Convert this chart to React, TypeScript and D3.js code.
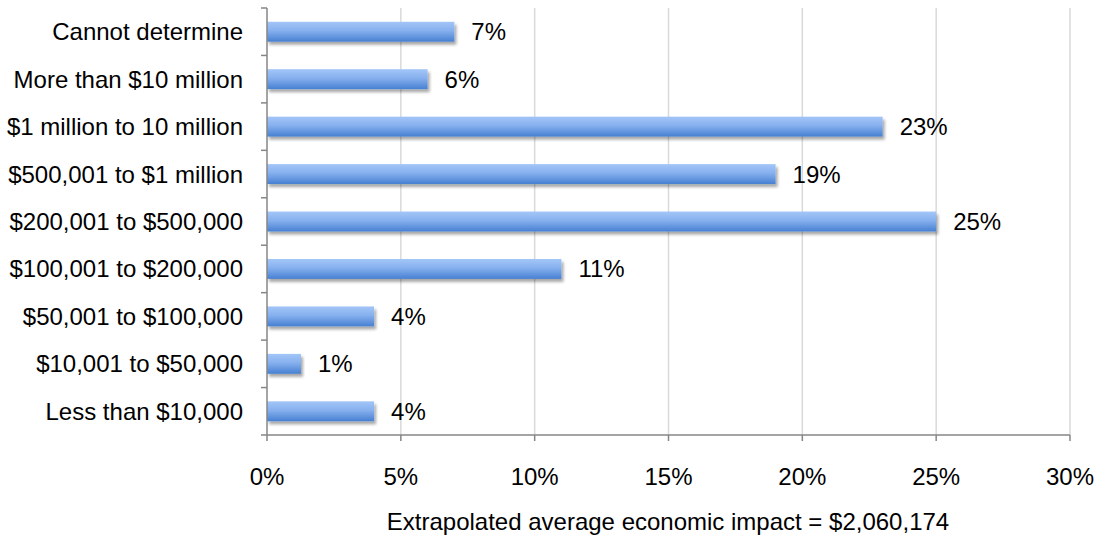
import React from "react";
import * as d3 from "d3";

const categories = [
  "Cannot determine",
  "More than $10 million",
  "$1 million to 10 million",
  "$500,001 to $1 million",
  "$200,001 to $500,000",
  "$100,001 to $200,000",
  "$50,001 to $100,000",
  "$10,001 to $50,000",
  "Less than $10,000",
];
const values = [7, 6, 23, 19, 25, 11, 4, 1.27, 4];
const valueLabels = ["7%", "6%", "23%", "19%", "25%", "11%", "4%", "1%", "4%"];
const xTicks = [0, 5, 10, 15, 20, 25, 30];
const xTitle = "Extrapolated average economic impact = $2,060,174";

export default function App() {
  const W = 1099, H = 536;
  const left = 267, right = 1070, top = 8, bottom = 435;
  const x = d3.scaleLinear().domain([0, 30]).range([left, right]);
  const y = d3.scaleBand<string>().domain(categories).range([top, bottom]).paddingInner(0.58).paddingOuter(0.29);
  const font = "'Liberation Sans', Arial, sans-serif";
  const fs = 24;
  const boundaries = d3.range(categories.length + 1).map((i) => top + i * ((bottom - top) / categories.length));
  return (
    <svg width={W} height={H} style={{ position: "absolute", left: 0, top: 0 }} fontFamily={font}>
      <defs>
        <linearGradient id="barGrad" x1="0" y1="0" x2="0" y2="1">
          <stop offset="0%" stopColor="#a3c6f8" />
          <stop offset="45%" stopColor="#86b0ee" />
          <stop offset="100%" stopColor="#4780d2" />
        </linearGradient>
        <filter id="shadow" x="-5%" y="-30%" width="115%" height="190%">
          <feGaussianBlur in="SourceAlpha" stdDeviation="1.6" />
          <feOffset dx="1.5" dy="2.5" result="off" />
          <feComponentTransfer>
            <feFuncA type="linear" slope="0.35" />
          </feComponentTransfer>
          <feMerge>
            <feMergeNode />
            <feMergeNode in="SourceGraphic" />
          </feMerge>
        </filter>
      </defs>
      <rect width={W} height={H} fill="#fff" />
      {xTicks.slice(1).map((t) => (
        <line key={"g" + t} x1={x(t)} x2={x(t)} y1={top} y2={bottom} stroke="#d9d9d9" strokeWidth={1.5} />
      ))}
      {categories.map((c, i) => (
        <g key={c}>
          <rect
            x={x(0)}
            y={y(c)!}
            width={x(values[i]) - x(0)}
            height={y.bandwidth()}
            fill="url(#barGrad)"
            filter="url(#shadow)"
          />
          <text
            x={x(values[i]) + 17}
            y={y(c)! + y.bandwidth() / 2}
            dominantBaseline="central"
            fontSize={fs}
            fill="#000"
          >
            {valueLabels[i]}
          </text>
          <text
            x={243}
            y={y(c)! + y.bandwidth() / 2}
            dominantBaseline="central"
            textAnchor="end"
            fontSize={fs}
            fill="#000"
          >
            {c}
          </text>
        </g>
      ))}
      <line x1={left} x2={left} y1={top} y2={bottom} stroke="#868686" strokeWidth={1.5} />
      {boundaries.map((b, i) => (
        <line key={"yt" + i} x1={left - 6} x2={left} y1={b} y2={b} stroke="#868686" strokeWidth={1.5} />
      ))}
      <line x1={left} x2={right} y1={bottom} y2={bottom} stroke="#868686" strokeWidth={1.5} />
      {xTicks.map((t) => (
        <g key={"xt" + t}>
          <line x1={x(t)} x2={x(t)} y1={bottom} y2={bottom + 6} stroke="#868686" strokeWidth={1.5} />
          <text x={x(t)} y={476} textAnchor="middle" dominantBaseline="central" fontSize={fs} fill="#000">
            {t + "%"}
          </text>
        </g>
      ))}
      <text x={668} y={521} textAnchor="middle" dominantBaseline="central" fontSize={fs} fill="#000">
        {xTitle}
      </text>
    </svg>
  );
}
